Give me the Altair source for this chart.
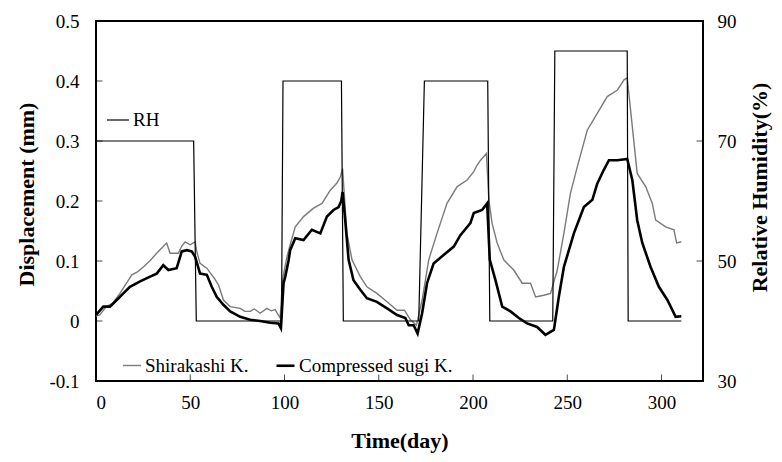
import altair as alt
import pandas as pd

# ---------------- data ----------------
shira_day = [0, 2, 5.5, 9, 12.7, 17.2, 19, 22, 25.1, 28.5, 32.2, 35, 37.5, 39.3, 43.7, 45.5,
             47.3, 49.9, 52.6, 53.5, 55.2, 58.8, 61.4, 63, 65, 67.6, 71.2, 76.5, 79, 81.8, 84,
             87.1, 90.6, 93, 95, 97.7, 99, 101.3, 103, 105.7, 110.1, 115.4, 119.9, 124.3, 127.8,
             129.6, 130.8, 133.1, 135.8, 140.2, 143.7, 149, 154.4, 159.7, 163.6, 166.8, 170,
             173, 176.5, 180.9, 186.2, 191.6, 196.9, 200.4, 202.2, 204, 207.1, 208.4, 210.1,
             212.8, 216.3, 221.6, 226.1, 230.5, 233.2, 237.5, 241.1, 244.7, 248.2, 251.7, 255.3,
             260.6, 265.9, 271.2, 276.6, 280.1, 281.8, 284.5, 287.1, 291.6, 295.1, 296.9, 302.2,
             306.6, 308, 310.5]
shira_val = [0.008, 0.01, 0.024, 0.03, 0.046, 0.068, 0.077, 0.082, 0.09, 0.1, 0.113, 0.122, 0.13,
             0.113, 0.113, 0.125, 0.132, 0.127, 0.132, 0.115, 0.096, 0.088, 0.077, 0.07, 0.06,
             0.035, 0.024, 0.021, 0.016, 0.016, 0.02, 0.013, 0.021, 0.017, 0.019, 0.005, 0.07,
             0.107, 0.127, 0.157, 0.174, 0.188, 0.196, 0.218, 0.23, 0.24, 0.254, 0.146, 0.102,
             0.074, 0.057, 0.046, 0.032, 0.018, 0.018, 0.002, -0.007, 0.035, 0.102, 0.146, 0.196,
             0.224, 0.235, 0.249, 0.26, 0.268, 0.279, 0.202, 0.163, 0.13, 0.102, 0.085, 0.063,
             0.063, 0.04, 0.043, 0.046, 0.085, 0.146, 0.213, 0.257, 0.318, 0.346, 0.374, 0.385,
             0.402, 0.405, 0.324, 0.246, 0.224, 0.196, 0.168, 0.157, 0.152, 0.13, 0.132]

sugi_day = [0, 3.9, 7.4, 11, 14.5, 18, 23.4, 28.7, 32.2, 35.7, 38.4, 42.8, 45.5, 48.2, 50.8,
            52.6, 55.2, 58.8, 61.4, 64.1, 67.6, 71.2, 76.5, 81.8, 87.1, 92.4, 96.8, 98.1, 99.5,
            100.4, 102.1, 103, 105.7, 110.1, 114.5, 119, 122.5, 126, 128.7, 130.1, 130.8, 132.2,
            134, 136.6, 140.2, 143.7, 149, 154.4, 159.7, 164.1, 165.9, 168.5, 170.6, 173, 175.6,
            179.1, 184.4, 189.8, 193.3, 198.6, 200.4, 204.8, 207.5, 208.9, 211.9, 215.5, 219.9,
            224.3, 228.7, 234, 238.4, 242.9, 245.5, 248.2, 253.5, 258.8, 263.3, 265.9, 269.4,
            272.1, 276.6, 281.8, 284.5, 287.1, 289.8, 294.2, 298.6, 303.1, 307.5, 310.5]
sugi_val = [0.01, 0.024, 0.024, 0.035, 0.046, 0.057, 0.066, 0.074, 0.079, 0.093, 0.085, 0.088,
            0.116, 0.118, 0.116, 0.107, 0.079, 0.077, 0.057, 0.04, 0.027, 0.016, 0.007, 0.002,
            0.0, -0.003, -0.004, -0.012, 0.063, 0.074, 0.1, 0.118, 0.138, 0.135, 0.152, 0.146,
            0.174, 0.185, 0.19, 0.2, 0.215, 0.168, 0.102, 0.068, 0.052, 0.038, 0.032, 0.021,
            0.01, 0.005, -0.007, -0.007, -0.021, 0.013, 0.063, 0.096, 0.11, 0.124, 0.143, 0.163,
            0.18, 0.185, 0.196, 0.102, 0.068, 0.024, 0.016, 0.005, -0.004, -0.01, -0.023, -0.015,
            0.04, 0.09, 0.146, 0.19, 0.202, 0.229, 0.252, 0.268, 0.268, 0.27, 0.235, 0.168, 0.13,
            0.09, 0.057, 0.035, 0.007, 0.008]

rh_day = [0, 51.8, 53.2, 98.4, 99.2, 130.2, 131.2, 171.2, 174.2, 207.8, 208.9, 242.3, 243.4,
          281.8, 282.3, 310.5]
rh_val = [70, 70, 40, 40, 80, 80, 40, 40, 80, 80, 40, 40, 85, 85, 40, 40]

x_ticks = [0, 50, 100, 150, 200, 250, 300]
disp_ticks = [-0.1, 0, 0.1, 0.2, 0.3, 0.4, 0.5]
rh_ticks = [30, 50, 70, 90]
x_domain = [0, 322]
disp_domain = [-0.1, 0.5]
rh_domain = [30, 90]

series_names = ["Shirakashi K.", "Compressed sugi K."]
series_colors = ["#7a7a7a", "#000000"]
series_widths = [1.4, 2.6]

# ---------------- tables ----------------
disp_df = pd.concat([
    pd.DataFrame({"day": shira_day, "disp": shira_val, "series": series_names[0], "order": range(len(shira_day))}),
    pd.DataFrame({"day": sugi_day, "disp": sugi_val, "series": series_names[1], "order": range(len(sugi_day))}),
])
rh_df = pd.DataFrame({"day": rh_day, "rh": rh_val, "name": "RH", "order": range(len(rh_day))})

left_ticks = pd.DataFrame({"day": x_domain[0], "disp": disp_ticks})
bottom_ticks = pd.DataFrame({"day": x_ticks, "disp": disp_domain[0]})
right_ticks = pd.DataFrame({"day": x_domain[1], "rh": rh_ticks})

FONT = "Liberation Serif"

x_axis = alt.Axis(values=x_ticks, title="Time(day)", labelPadding=12, tickSize=0,
                  titleY=66, titleBaseline="alphabetic")
y_axis = alt.Axis(values=disp_ticks, title="Displacement (mm)", labelPadding=17, tickSize=0,
                  labelExpr="datum.value < 0 ? '-' + format(-datum.value, '.1~f') : format(datum.value, '.1~f')",
                  titleX=-70, titleY=173, titleBaseline="middle", titleAngle=270)
rh_axis = alt.Axis(values=rh_ticks, title="Relative Humidity(%)", orient="right", labelPadding=14,
                   tickSize=0, titleX=56, titleY=166, titleBaseline="middle", titleAngle=270)

X = alt.X("day:Q", scale=alt.Scale(domain=x_domain, nice=False, zero=False), axis=x_axis)
Y = alt.Y("disp:Q", scale=alt.Scale(domain=disp_domain, nice=False, zero=False), axis=y_axis)
Y2 = alt.Y("rh:Q", scale=alt.Scale(domain=rh_domain, nice=False, zero=False), axis=rh_axis)

lines = alt.Chart(disp_df).mark_line(clip=True).encode(
    x=X, y=Y,
    color=alt.Color("series:N", scale=alt.Scale(domain=series_names, range=series_colors),
                    legend=alt.Legend(title=None, orient="none", direction="horizontal",
                                      legendX=26, legendY=334, symbolType="stroke",
                                      symbolSize=324, symbolStrokeWidth=2, columnPadding=22,
                                      labelFont=FONT, labelFontSize=19, labelColor="black",
                                      labelOffset=3, padding=0)),
    strokeWidth=alt.StrokeWidth("series:N", scale=alt.Scale(domain=series_names, range=series_widths),
                                legend=None),
    order="order:Q",
)

lt = alt.Chart(left_ticks).mark_tick(orient="horizontal", size=13, thickness=1, color="black", clip=True).encode(x=X, y=Y)
bt = alt.Chart(bottom_ticks).mark_tick(orient="vertical", size=13, thickness=1, color="black", clip=True).encode(x=X, y=Y)

rh_line = alt.Chart(rh_df).mark_line(strokeWidth=1.2, clip=True).encode(
    x=X, y=Y2,
    color=alt.Color("name:N", scale=alt.Scale(domain=["RH"], range=["black"]),
                    legend=alt.Legend(title=None, orient="none", legendX=10, legendY=87,
                                      symbolType="stroke", symbolSize=484, symbolStrokeWidth=1.2,
                                      labelFont=FONT, labelFontSize=19, labelColor="black",
                                      labelOffset=3, padding=0)),
    order="order:Q",
)
rt = alt.Chart(right_ticks).mark_tick(orient="horizontal", size=13, thickness=1, color="black", clip=True).encode(x=X, y=Y2)

disp_layer = alt.layer(lines, lt, bt)
rh_layer = alt.layer(rh_line, rt)

chart = alt.layer(disp_layer, rh_layer).resolve_scale(
    y="independent", color="independent", strokeWidth="independent"
).properties(
    width=607, height=360,
    background="white",
    autosize=alt.AutoSizeParams(type="none"),
    padding={"left": 88, "top": 13, "right": 70, "bottom": 72},
).configure_view(
    stroke="black", strokeWidth=2
).configure_axis(
    domain=False, grid=False, ticks=False,
    labelFont=FONT, labelFontSize=19, labelColor="black",
    titleFont=FONT, titleFontSize=22, titleFontWeight="bold", titleColor="black",
)

chart.save("out.html", embed_options={"renderer": "svg", "actions": False})
